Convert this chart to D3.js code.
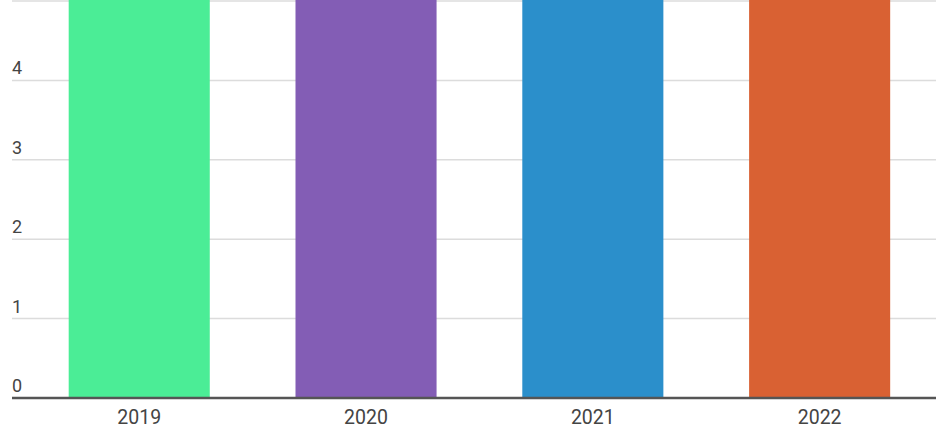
<!DOCTYPE html>
<html>
<head>
<meta charset="utf-8">
<script src="https://cdn.jsdelivr.net/npm/d3@7"></script>
<style>
  html, body { margin: 0; padding: 0; background: #fff; overflow: hidden; }
</style>
</head>
<body>
<svg id="chart"></svg>
<script>
// data (bars run past the top of the visible area)
const years = ["2019", "2020", "2021", "2022"];
const values = [6, 6, 6, 6];
const barColors = ["#4bed96", "#835db5", "#2b8fcb", "#d96133"];
const yTicks = [0, 1, 2, 3, 4, 5];

const width = 940;
const height = 442;
const marginLeft = 12;
const marginRight = 4;
const plotTop = 1;
const plotBottom = 398;
const labelSize = 18;

const svg = d3.select("#chart")
  .attr("width", width)
  .attr("height", height)
  .attr("viewBox", [0, 0, width, height])
  .style("font-family", "Roboto, sans-serif");

const x = d3.scaleBand()
  .domain(years)
  .range([marginLeft, width - marginRight])
  .paddingInner(0.378)
  .paddingOuter(0.226)
  .align(0.553);

const y = d3.scaleLinear()
  .domain([0, 5])
  .range([plotBottom, plotTop]);

// gridlines
svg.append("g")
  .selectAll("line")
  .data(yTicks.filter(d => d > 0))
  .join("line")
  .attr("x1", marginLeft)
  .attr("x2", width - marginRight)
  .attr("y1", d => y(d))
  .attr("y2", d => y(d))
  .attr("stroke", "#dcdcdc")
  .attr("stroke-width", 1.5);

// bars
svg.append("g")
  .selectAll("rect")
  .data(years.map((yr, i) => ({ yr, v: values[i], c: barColors[i] })))
  .join("rect")
  .attr("x", d => x(d.yr))
  .attr("y", d => y(d.v))
  .attr("width", x.bandwidth())
  .attr("height", d => y(0) - y(d.v))
  .attr("fill", d => d.c);

// y tick labels, sitting just above each gridline (the top one is scrolled off)
svg.append("g")
  .selectAll("text")
  .data(yTicks.filter(d => y(d) - 6 - labelSize > 0))
  .join("text")
  .attr("x", marginLeft)
  .attr("y", d => y(d) - 6)
  .attr("fill", "#444")
  .attr("font-size", labelSize)
  .text(d => d);

// x axis
const xAxis = svg.append("g")
  .attr("transform", `translate(0,${plotBottom})`)
  .call(d3.axisBottom(x).tickSize(0).tickPadding(12));

xAxis.select(".domain")
  .attr("d", `M${marginLeft},0H${width - marginRight}`)
  .attr("stroke", "#555")
  .attr("stroke-width", 2.5);

xAxis.selectAll("text")
  .attr("fill", "#444")
  .attr("font-size", 19.5)
  .attr("font-family", "Roboto, sans-serif");
</script>
</body>
</html>
